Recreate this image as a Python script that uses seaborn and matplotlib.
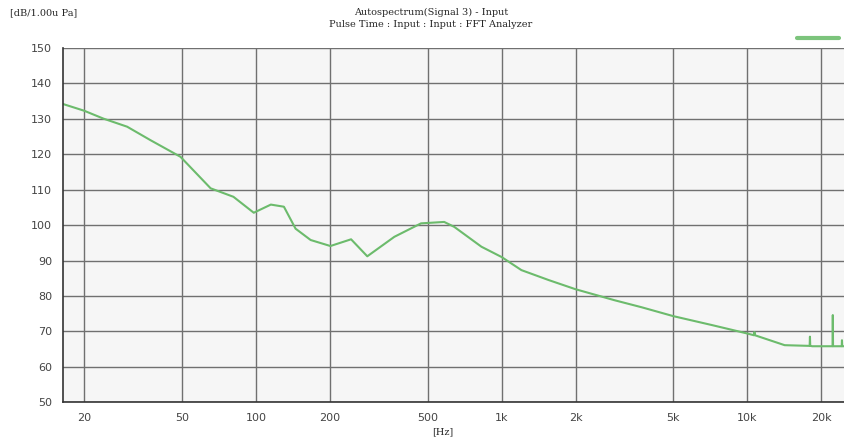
import numpy as np
import pandas as pd
import matplotlib
matplotlib.use("Agg")
import matplotlib.pyplot as plt
import seaborn as sns

# autospectrum (Hz, dB re 1 uPa)
freq = [16.4, 20, 23.9, 29.9, 37.2, 49.3, 65.4, 81, 98, 115, 130, 145, 167,
        201, 244, 284, 366, 470, 584, 642, 828, 1000, 1204, 1553, 2000,
        2880, 3720, 5000, 7160, 10000, 10650, 10700, 10750, 14200, 17950,
        18000, 18050, 18400, 22250, 22300, 22350, 24250, 24300, 24350, 25000]
level = [134.2, 132.3, 130.1, 127.8, 124.0, 119.3, 110.4, 108.0, 103.5, 105.8,
         105.2, 99.0, 95.8, 94.1, 96.0, 91.2, 96.7, 100.5, 100.9, 99.5, 93.9,
         91.0, 87.3, 84.5, 81.9, 78.8, 76.8, 74.3, 71.8, 69.4, 68.9, 69.8, 68.9,
         66.1, 65.9, 68.5, 65.9, 65.8, 65.8, 74.6, 65.8, 65.8, 67.5, 65.8, 65.8]

xticks = [20, 50, 100, 200, 500, 1000, 2000, 5000, 10000, 20000]
xtick_labels = ["20", "50", "100", "200", "500", "1k", "2k", "5k", "10k", "20k"]
yticks = list(range(50, 151, 10))

df = pd.DataFrame({"Frequency": freq, "Level": level})

sns.set_style("white")
plt.rcParams["font.family"] = ["DejaVu Sans"]

fig = plt.figure(figsize=(8.45, 4.41), dpi=100)
ax = fig.add_axes([0.0746, 0.088, 0.9254, 0.803])
ax.set_facecolor("#f6f6f6")

sns.lineplot(data=df, x="Frequency", y="Level", ax=ax, color="#6cbb6c",
             linewidth=1.5, estimator=None, sort=False)

ax.set_xscale("log")
ax.set_xlim(16.4, 25000)
ax.set_ylim(50, 150)
ax.set_xticks(xticks)
ax.set_xticklabels(xtick_labels)
ax.xaxis.set_minor_locator(matplotlib.ticker.NullLocator())
ax.set_yticks(yticks)
ax.tick_params(axis="both", direction="out", length=5, width=1,
               color="#444444", labelsize=8, labelcolor="#444444", pad=3)
ax.grid(True, color="#707070", linewidth=1.0)

for side in ["top", "right"]:
    ax.spines[side].set_visible(False)
for side in ["left", "bottom"]:
    ax.spines[side].set_color("#333333")
    ax.spines[side].set_linewidth(1.2)

ax.set_xlabel("[Hz]", fontsize=7, family="DejaVu Serif", labelpad=0)
ax.set_ylabel("")
ax.xaxis.set_label_coords(0.486, -0.072)

fig.text(0.012, 0.972, "[dB/1.00u Pa]", fontsize=7, family="DejaVu Serif",
         va="center", ha="left")
fig.text(0.51, 0.972, "Autospectrum(Signal 3) - Input", fontsize=7,
         family="DejaVu Serif", va="center", ha="center")
fig.text(0.51, 0.945, "Pulse Time : Input : Input : FFT Analyzer", fontsize=7,
         family="DejaVu Serif", va="center", ha="center")

# legend swatch in the top right corner
ax.plot([], [], color="#7cc47c", linewidth=3, label=" ")
ax.legend(loc="upper right", bbox_to_anchor=(1.0, 1.05), frameon=False,
          handlelength=5, fontsize=6, borderaxespad=0, handletextpad=0)

fig.savefig("out.png", dpi=100)
